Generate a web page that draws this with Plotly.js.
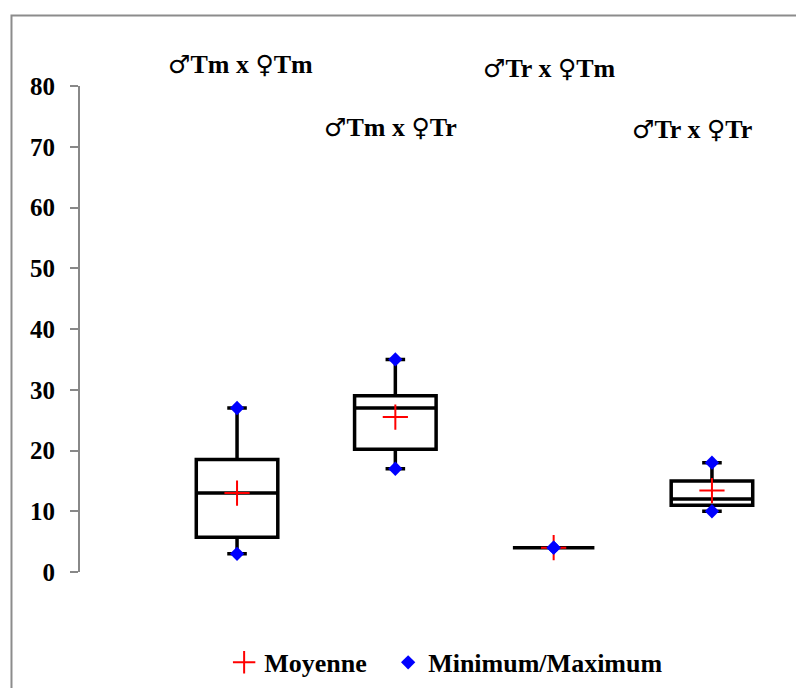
<!DOCTYPE html>
<html>
<head>
<meta charset="utf-8">
<script src="https://cdn.plot.ly/plotly-3.0.1.min.js"></script>
<style>
html,body{margin:0;padding:0;background:#fff;}
#chart{width:796px;height:688px;}
</style>
</head>
<body>
<div id="chart"></div>
<script>
// Data
const categories = ["♂Tm x ♀Tm", "♂Tm x ♀Tr", "♂Tr x ♀Tm", "♂Tr x ♀Tr"];
const minimum = [3, 17, 4, 10];
const q1 = [5.7, 20.2, 4, 11];
const median = [13, 27, 4, 12];
const q3 = [18.5, 29, 4, 15];
const maximum = [27, 35, 4, 18];
const mean = [13, 25.5, 4, 13.4];
const yTicks = [0, 10, 20, 30, 40, 50, 60, 70, 80];

const serif = "Liberation Serif, Times New Roman, serif";

const boxTrace = {
  type: "box",
  x: categories,
  q1: q1,
  median: median,
  q3: q3,
  lowerfence: minimum,
  upperfence: maximum,
  width: 0.515,
  whiskerwidth: 0.24,
  boxpoints: false,
  line: {color: "#000", width: 3.5},
  fillcolor: "rgba(255,255,255,0)",
  showlegend: false,
  hoverinfo: "skip"
};

const meanTrace = {
  type: "scatter",
  mode: "markers",
  name: "Moyenne",
  legend: "legend",
  x: categories,
  y: mean,
  marker: {symbol: "cross-thin", size: 18, color: "#ff0000", line: {color: "#ff0000", width: 2}},
  cliponaxis: false
};

const minmaxTrace = {
  type: "scatter",
  mode: "markers",
  name: "Minimum/Maximum",
  legend: "legend2",
  x: categories.concat(categories),
  y: minimum.concat(maximum),
  marker: {symbol: "diamond", size: 11, color: "#0000ff"},
  cliponaxis: false
};

function styleLabel(c) {
  return c.replace(/([♂♀])/g, '<span style="font-family:DejaVu Sans;font-weight:normal;font-size:25px">$1</span>');
}

const labelY = [1.044, 0.915, 1.036, 0.911];
const labelShift = [3, -5, -4, -20];
const annotations = categories.map((c, i) => ({
  x: c, y: labelY[i], xref: "x", yref: "paper", yanchor: "middle",
  text: styleLabel(c), showarrow: false, xshift: labelShift[i],
  font: {family: serif, size: 26, color: "#000", weight: "bold"}
}));

const legendFont = {family: serif, size: 26, color: "#000", weight: "bold"};

const layout = {
  width: 796, height: 688,
  margin: {l: 80, r: 6, t: 85.5, b: 116.3, autoexpand: false},
  paper_bgcolor: "#fff", plot_bgcolor: "#fff",
  showlegend: true,
  legend: {
    orientation: "h", x: 0.203, xanchor: "left", y: -0.186, yanchor: "middle",
    font: legendFont, itemclick: false
  },
  legend2: {
    orientation: "h", x: 0.434, xanchor: "left", y: -0.186, yanchor: "middle",
    font: legendFont, itemclick: false
  },
  xaxis: {
    type: "category",
    range: [-0.992, 3.493],
    showline: false, showticklabels: false, ticks: "",
    showgrid: false, zeroline: false
  },
  yaxis: {
    range: [0, 80],
    tickvals: yTicks,
    showline: true, linecolor: "#888", linewidth: 2,
    ticks: "outside", ticklen: 8, tickwidth: 2, tickcolor: "#888",
    ticklabelstandoff: 10,
    tickfont: {family: serif, size: 25, color: "#000", weight: "bold"},
    showgrid: false, zeroline: false
  },
  yaxis2: {
    overlaying: "y", anchor: "free", position: 0, side: "right",
    range: [0, 80], tickvals: yTicks,
    ticks: "outside", ticklen: 8, tickwidth: 2, tickcolor: "#888",
    showticklabels: false, showline: false, showgrid: false, zeroline: false
  },
  annotations: annotations,
  shapes: [{
    type: "rect", xref: "paper", yref: "paper",
    x0: -0.0965, x1: 1.014, y0: -0.264, y1: 1.145,
    line: {color: "#8c8c8c", width: 2}, fillcolor: "rgba(0,0,0,0)", layer: "below"
  }]
};

Plotly.newPlot("chart", [boxTrace, meanTrace, minmaxTrace], layout, {displayModeBar: false, staticPlot: true});
</script>
</body>
</html>
